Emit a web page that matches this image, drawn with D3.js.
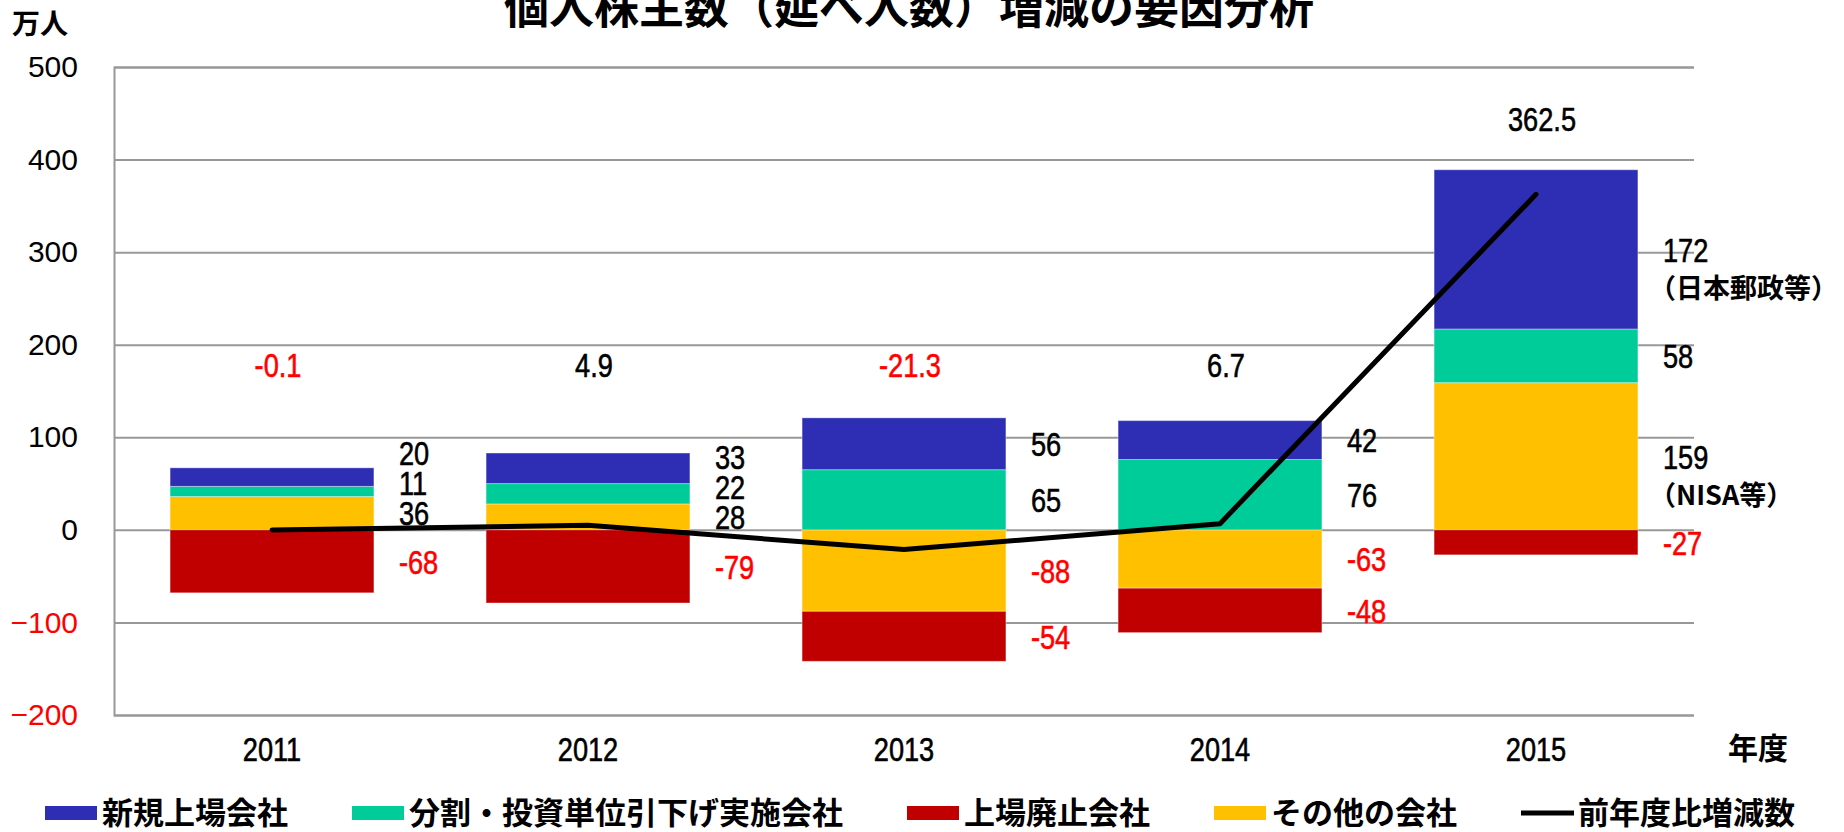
<!DOCTYPE html>
<html>
<head>
<meta charset="utf-8">
<style>
  body { margin: 0; background: #fff; }
  svg text { font-family: "Liberation Sans", sans-serif; }
  svg text.jp { font-family: "Noto Sans CJK JP", sans-serif; font-weight: 700; }
  svg text.num { stroke-width: 0.6px; }
</style>
</head>
<body>
<svg id="chart" width="1844" height="832"></svg>
<script src="https://d3js.org/d3.v7.min.js"></script>
<script>
// データ
const years = ["2011", "2012", "2013", "2014", "2015"];
const newListing = [20, 33, 56, 42, 172];   // 新規上場会社
const splitLower = [11, 22, 65, 76, 58];    // 分割・投資単位引下げ実施会社
const delisted = [-68, -79, -54, -48, -27]; // 上場廃止会社
const others = [36, 28, -88, -63, 159];     // その他の会社
const netChange = [-0.1, 4.9, -21.3, 6.7, 362.5]; // 前年度比増減数
const yTicks = [500, 400, 300, 200, 100, 0, -100, -200];
const notes2015 = { newListing: "（日本郵政等）", others: "（NISA等）" };

const series = [
  { key: "others", name: "その他の会社", values: others, color: "#FFC000" },
  { key: "splitLower", name: "分割・投資単位引下げ実施会社", values: splitLower, color: "#00CC99" },
  { key: "newListing", name: "新規上場会社", values: newListing, color: "#2E2EB4" },
  { key: "delisted", name: "上場廃止会社", values: delisted, color: "#C00000" }
];
const legendOrder = ["newListing", "splitLower", "delisted", "others"];

const svg = d3.select("#chart");
const plotL = 114, plotR = 1694, plotT = 67, plotB = 715;
const narrow = 0.8; // 細字体の代わりに横幅を縮める
const numColor = v => v < 0 ? "#FF0000" : "#000";

const x = d3.scaleBand().domain(years).range([plotL, plotR])
  .paddingInner(0.355).paddingOuter(0.1775);
const y = d3.scaleLinear().domain([-200, 500]).range([plotB, plotT]);

// タイトル（上が切れている）
svg.append("text").attr("class", "jp")
  .attr("x", 909).attr("y", 24)
  .attr("text-anchor", "middle")
  .style("font-size", "45px")
  .text("個人株主数（延べ人数）増減の要因分析");

svg.append("text").attr("class", "jp")
  .attr("x", 12).attr("y", 34)
  .style("font-size", "28px")
  .text("万人");

// 軸とグリッド
const yAxis = svg.append("g")
  .attr("transform", `translate(${plotL},0)`)
  .call(d3.axisLeft(y).tickValues(yTicks).tickSize(-(plotR - plotL)).tickPadding(36).tickFormat(d3.format("d")));
yAxis.select(".domain").attr("stroke", "#989898").attr("stroke-width", 2);
yAxis.selectAll(".tick line").attr("stroke", "#989898").attr("stroke-width", 2);
yAxis.selectAll(".tick text")
  .style("font-size", "30px")
  .attr("fill", numColor);

const xAxis = svg.append("g")
  .attr("transform", `translate(0,${plotB})`)
  .call(d3.axisBottom(x).tickSize(0).tickPadding(22));
xAxis.select(".domain").remove();
xAxis.selectAll(".tick text")
  .attr("class", "num")
  .style("font-size", "34px")
  .attr("fill", "#000")
  .attr("stroke", "#000")
  .attr("transform", `scale(${narrow},1)`);

svg.append("text").attr("class", "jp")
  .attr("x", 1728).attr("y", 759)
  .style("font-size", "30px")
  .text("年度");

// 積み上げ棒
const rows = years.map((yr, i) => {
  const r = { year: yr };
  series.forEach(s => r[s.key] = s.values[i]);
  return r;
});
const stack = d3.stack().keys(series.map(s => s.key)).offset(d3.stackOffsetDiverging);
const stacked = stack(rows);

const layers = svg.append("g").selectAll("g")
  .data(stacked)
  .join("g")
  .attr("fill", (d, i) => series[i].color);

layers.selectAll("rect")
  .data(d => d)
  .join("rect")
  .attr("x", d => x(d.data.year))
  .attr("width", x.bandwidth())
  .attr("y", d => y(Math.max(d[0], d[1])))
  .attr("height", d => Math.abs(y(d[0]) - y(d[1])))
  .attr("stroke", "#ffffff")
  .attr("stroke-opacity", 0.35)
  .attr("stroke-width", 1);

// 値ラベル（重なりを避ける）
const minGap = 30;
const labels = [];
years.forEach((yr, i) => {
  const segs = stacked.map((layer, k) => ({
    key: series[k].key,
    value: series[k].values[i],
    mid: y((layer[i][0] + layer[i][1]) / 2)
  }));
  // 正の値は上へ、負の値は下へ押し出す
  let prev = null;
  segs.filter(s => s.value > 0).forEach(s => {
    s.ly = prev === null ? s.mid : Math.min(s.mid, prev - minGap);
    prev = s.ly;
  });
  prev = null;
  segs.filter(s => s.value < 0).forEach(s => {
    s.ly = prev === null ? s.mid : Math.max(s.mid, prev + minGap);
    prev = s.ly;
  });
  segs.forEach(s => labels.push({ year: yr, ...s }));
});

const labelX = d => x(d.year) + x.bandwidth() + 25;

svg.append("g").selectAll("text")
  .data(labels)
  .join("text")
  .attr("class", "num")
  .attr("transform", d => `translate(${labelX(d)},${d.ly}) scale(${narrow},1)`)
  .attr("dy", "0.36em")
  .style("font-size", "34px")
  .attr("fill", d => numColor(d.value))
  .attr("stroke", d => numColor(d.value))
  .text(d => d.value);

svg.append("g").selectAll("text")
  .data(labels.filter(d => d.year === "2015" && notes2015[d.key]))
  .join("text")
  .attr("class", "jp")
  .attr("x", d => labelX(d) - 14)
  .attr("y", d => d.ly + 39)
  .attr("dy", "0.36em")
  .style("font-size", "27px")
  .attr("fill", "#000")
  .text(d => notes2015[d.key]);

// 前年度比増減数の折れ線
const pts = years.map((yr, i) => [x(yr) + x.bandwidth() / 2, y(netChange[i])]);
svg.append("path")
  .attr("d", d3.line()(pts))
  .attr("fill", "none")
  .attr("stroke", "#000")
  .attr("stroke-width", 5)
  .attr("stroke-linejoin", "round")
  .attr("stroke-linecap", "round");

svg.append("g").selectAll("text")
  .data(netChange)
  .join("text")
  .attr("class", "num")
  .attr("transform", (d, i) =>
    `translate(${x(years[i]) + x.bandwidth() / 2 + 6},${y(Math.max(d + 82, 178))}) scale(${narrow},1)`)
  .attr("dy", "0.36em")
  .attr("text-anchor", "middle")
  .style("font-size", "34px")
  .attr("fill", numColor)
  .attr("stroke", numColor)
  .text(d => d);

// 凡例
const legendItems = legendOrder.map(k => series.find(s => s.key === k))
  .concat([{ key: "net", name: "前年度比増減数", color: "#000", line: true }]);
const legend = svg.append("g").attr("transform", "translate(0,813)");
let lx = 45;
legendItems.forEach(item => {
  const g = legend.append("g").attr("transform", `translate(${lx},0)`);
  if (item.line) {
    g.append("line").attr("x1", 0).attr("x2", 53).attr("y1", 0).attr("y2", 0)
      .attr("stroke", "#000").attr("stroke-width", 5);
  } else {
    g.append("rect").attr("x", 0).attr("y", -7).attr("width", 52).attr("height", 14)
      .attr("fill", item.color);
  }
  const t = g.append("text").attr("class", "jp")
    .attr("x", 57).attr("y", 0).attr("dy", "0.36em")
    .style("font-size", "31px")
    .text(item.name);
  lx += 57 + t.node().getComputedTextLength() + 64;
});
</script>
</body>
</html>
